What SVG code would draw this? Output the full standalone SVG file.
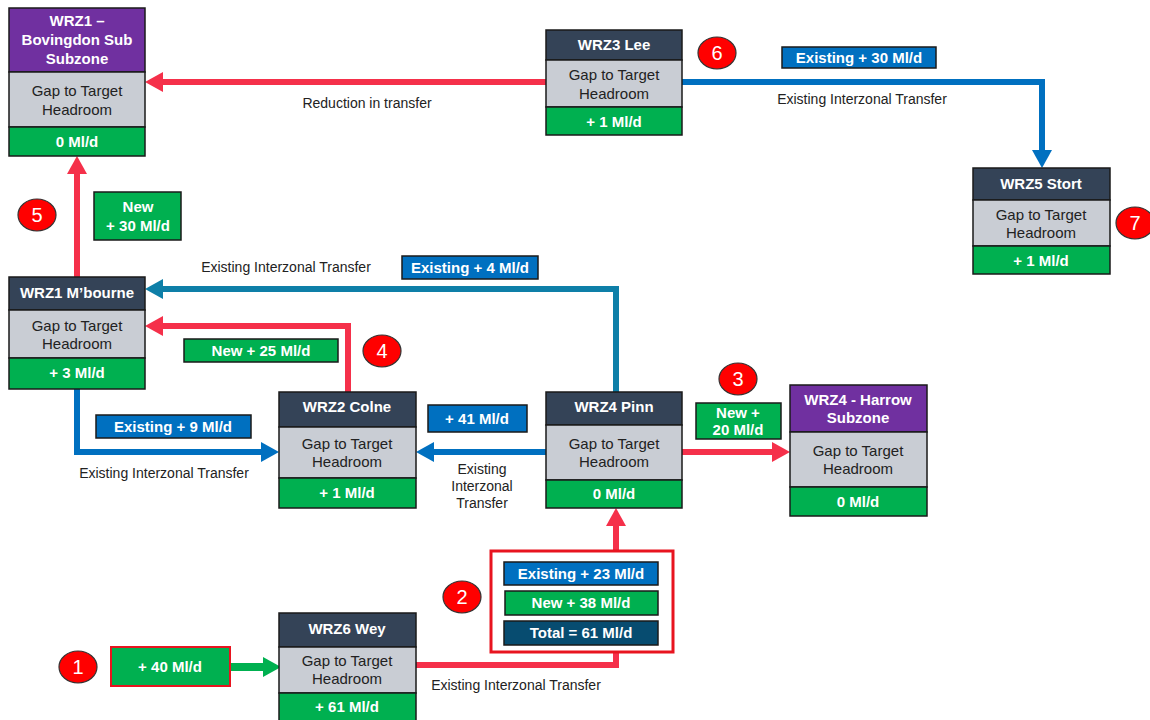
<svg xmlns="http://www.w3.org/2000/svg" width="1150" height="720" viewBox="0 0 1150 720">
<style>
.hd{fill:#344357;stroke:#1a1a1a;stroke-width:1.5}
.hp{fill:#7030a0;stroke:#1a1a1a;stroke-width:1.5}
.gy{fill:#c9cdd4;stroke:#1a1a1a;stroke-width:1.5}
.gn{fill:#00b050;stroke:#1a1a1a;stroke-width:1.5}
.bl{fill:#0070c0;stroke:#1a1a1a;stroke-width:1.5}
.nv{fill:#074c70;stroke:#1a1a1a;stroke-width:1.5}
.wt{font-family:"Liberation Sans",Arial,sans-serif;font-size:15px;font-weight:bold;fill:#ffffff;text-anchor:middle}
.gt{font-family:"Liberation Sans",Arial,sans-serif;font-size:15px;fill:#222222;text-anchor:middle}
.lb{font-family:"Liberation Sans",Arial,sans-serif;font-size:14px;fill:#222222;text-anchor:middle}
.bd{fill:#ff0000;stroke:#333333;stroke-width:1.2}
.bt{font-family:"Liberation Sans",Arial,sans-serif;font-size:20px;fill:#ffffff;text-anchor:middle}
.r{fill:none;stroke:#f5304a;stroke-width:6}
.b{fill:none;stroke:#0070c0;stroke-width:6}
.t{fill:none;stroke:#0e7fa8;stroke-width:6}
.g{fill:none;stroke:#00b050;stroke-width:8}
</style>
<defs>
<marker id="ar" markerUnits="userSpaceOnUse" markerWidth="20" markerHeight="24" refX="0" refY="12" orient="auto" overflow="visible"><path d="M0,2 L18,12 L0,22 z" fill="#f5304a"/></marker>
<marker id="ab" markerUnits="userSpaceOnUse" markerWidth="20" markerHeight="24" refX="0" refY="12" orient="auto" overflow="visible"><path d="M0,2 L18,12 L0,22 z" fill="#0070c0"/></marker>
<marker id="at" markerUnits="userSpaceOnUse" markerWidth="20" markerHeight="24" refX="0" refY="12" orient="auto" overflow="visible"><path d="M0,2 L18,12 L0,22 z" fill="#0e7fa8"/></marker>
<marker id="ag" markerUnits="userSpaceOnUse" markerWidth="20" markerHeight="24" refX="0" refY="12" orient="auto" overflow="visible"><path d="M0,2 L18,12 L0,22 z" fill="#00b050"/></marker>
</defs>
<rect width="1150" height="720" fill="#ffffff"/>

<g id="connectors">
<path class="r" d="M546,82 H163" marker-end="url(#ar)"/>
<path class="b" d="M682,82 H1042 V150" marker-end="url(#ab)"/>
<path class="r" d="M77,277 V174" marker-end="url(#ar)"/>
<path class="t" d="M616,392 V289 H163" marker-end="url(#at)"/>
<path class="r" d="M348,392 V326 H163" marker-end="url(#ar)"/>
<path class="b" d="M77,389 V452 H261" marker-end="url(#ab)"/>
<path class="b" d="M546,452 H434" marker-end="url(#ab)"/>
<path class="r" d="M682,452 H772" marker-end="url(#ar)"/>
<path class="r" d="M416,665 H616 V526" marker-end="url(#ar)"/>
<path class="g" d="M230,667 H263" marker-end="url(#ag)"/>
</g>

<g id="node-bovingdon">
<rect class="hp" x="9" y="8" width="136" height="64"/>
<rect class="gy" x="9" y="72" width="136" height="55"/>
<rect class="gn" x="9" y="127" width="136" height="29"/>
<text class="wt" x="77" y="26">WRZ1 –</text>
<text class="wt" x="77" y="45">Bovingdon Sub</text>
<text class="wt" x="77" y="64">Subzone</text>
<text class="gt" x="77" y="96">Gap to Target</text>
<text class="gt" x="77" y="115">Headroom</text>
<text class="wt" x="77" y="147">0 Ml/d</text>
</g>

<g id="node-lee">
<rect class="hd" x="546" y="30" width="136" height="30"/>
<rect class="gy" x="546" y="60" width="136" height="47"/>
<rect class="gn" x="546" y="107" width="136" height="28"/>
<text class="wt" x="614" y="50">WRZ3 Lee</text>
<text class="gt" x="614" y="80">Gap to Target</text>
<text class="gt" x="614" y="99">Headroom</text>
<text class="wt" x="614" y="127">+ 1 Ml/d</text>
</g>

<g id="node-stort">
<rect class="hd" x="973" y="168" width="137" height="32"/>
<rect class="gy" x="973" y="200" width="137" height="46"/>
<rect class="gn" x="973" y="246" width="137" height="28"/>
<text class="wt" x="1041" y="189">WRZ5 Stort</text>
<text class="gt" x="1041" y="220">Gap to Target</text>
<text class="gt" x="1041" y="238">Headroom</text>
<text class="wt" x="1041" y="266">+ 1 Ml/d</text>
</g>

<g id="node-mbourne">
<rect class="hd" x="9" y="277" width="136" height="33"/>
<rect class="gy" x="9" y="310" width="136" height="48"/>
<rect class="gn" x="9" y="358" width="136" height="31"/>
<text class="wt" x="77" y="298">WRZ1 M’bourne</text>
<text class="gt" x="77" y="331">Gap to Target</text>
<text class="gt" x="77" y="349">Headroom</text>
<text class="wt" x="77" y="378">+ 3 Ml/d</text>
</g>

<g id="node-colne">
<rect class="hd" x="279" y="392" width="137" height="35"/>
<rect class="gy" x="279" y="427" width="137" height="51"/>
<rect class="gn" x="279" y="478" width="137" height="30"/>
<text class="wt" x="347" y="412">WRZ2 Colne</text>
<text class="gt" x="347" y="449">Gap to Target</text>
<text class="gt" x="347" y="467">Headroom</text>
<text class="wt" x="347" y="498">+ 1 Ml/d</text>
</g>

<g id="node-pinn">
<rect class="hd" x="546" y="392" width="136" height="33"/>
<rect class="gy" x="546" y="425" width="136" height="55"/>
<rect class="gn" x="546" y="480" width="136" height="28"/>
<text class="wt" x="614" y="412">WRZ4 Pinn</text>
<text class="gt" x="614" y="449">Gap to Target</text>
<text class="gt" x="614" y="467">Headroom</text>
<text class="wt" x="614" y="499">0 Ml/d</text>
</g>

<g id="node-harrow">
<rect class="hp" x="790" y="385" width="137" height="47"/>
<rect class="gy" x="790" y="432" width="137" height="55"/>
<rect class="gn" x="790" y="487" width="137" height="29"/>
<text class="wt" x="858" y="405">WRZ4 - Harrow</text>
<text class="wt" x="858" y="423">Subzone</text>
<text class="gt" x="858" y="456">Gap to Target</text>
<text class="gt" x="858" y="474">Headroom</text>
<text class="wt" x="858" y="507">0 Ml/d</text>
</g>

<g id="node-wey">
<rect class="hd" x="279" y="613" width="137" height="34"/>
<rect class="gy" x="279" y="647" width="137" height="46"/>
<rect class="gn" x="279" y="693" width="137" height="30"/>
<text class="wt" x="347" y="634">WRZ6 Wey</text>
<text class="gt" x="347" y="666">Gap to Target</text>
<text class="gt" x="347" y="684">Headroom</text>
<text class="wt" x="347" y="712">+ 61 Ml/d</text>
</g>

<g id="labels">
<text class="lb" x="367" y="108">Reduction in transfer</text>
<rect class="bl" x="782" y="47" width="154" height="21"/>
<text class="wt" x="859" y="63">Existing  + 30 Ml/d</text>
<text class="lb" x="862" y="104">Existing Interzonal Transfer</text>

<rect class="gn" x="94" y="192" width="87" height="48"/>
<text class="wt" x="138" y="212">New</text>
<text class="wt" x="138" y="231">+ 30 Ml/d</text>

<text class="lb" x="286" y="272">Existing Interzonal Transfer</text>
<rect class="bl" x="402" y="256" width="136" height="23"/>
<text class="wt" x="470" y="273">Existing  + 4 Ml/d</text>

<rect class="gn" x="184" y="339" width="154" height="23"/>
<text class="wt" x="261" y="356">New + 25 Ml/d</text>

<rect class="bl" x="96" y="415" width="155" height="23"/>
<text class="wt" x="173" y="432">Existing  + 9 Ml/d</text>
<text class="lb" x="164" y="478">Existing Interzonal Transfer</text>

<rect class="bl" x="428" y="405" width="99" height="27"/>
<text class="wt" x="477" y="424">+ 41 Ml/d</text>
<text class="lb" x="482" y="474">Existing</text>
<text class="lb" x="482" y="491">Interzonal</text>
<text class="lb" x="482" y="508">Transfer</text>

<rect class="gn" x="696" y="403" width="85" height="36"/>
<text class="wt" x="738" y="418">New +</text>
<text class="wt" x="738" y="435">20 Ml/d</text>

<rect x="491" y="551" width="182" height="101" fill="#ffffff" stroke="#e8141f" stroke-width="3"/>
<rect class="bl" x="504" y="562" width="154" height="23"/>
<text class="wt" x="581" y="579">Existing  + 23 Ml/d</text>
<rect class="gn" x="505" y="591" width="153" height="24"/>
<text class="wt" x="581" y="608">New + 38 Ml/d</text>
<rect class="nv" x="504" y="621" width="154" height="24"/>
<text class="wt" x="581" y="638">Total = 61 Ml/d</text>
<text class="lb" x="516" y="690">Existing Interzonal Transfer</text>

<rect x="111" y="647" width="119" height="39" fill="#00b050" stroke="#e8141f" stroke-width="2"/>
<text class="wt" x="170" y="672">+ 40 Ml/d</text>
</g>

<g id="badges">
<ellipse class="bd" cx="78" cy="667" rx="19" ry="16"/><text class="bt" x="78" y="674">1</text>
<ellipse class="bd" cx="462" cy="597" rx="19" ry="16"/><text class="bt" x="462" y="604">2</text>
<ellipse class="bd" cx="738" cy="379" rx="19" ry="16"/><text class="bt" x="738" y="386">3</text>
<ellipse class="bd" cx="382" cy="351" rx="19" ry="16"/><text class="bt" x="382" y="358">4</text>
<ellipse class="bd" cx="37" cy="215" rx="19" ry="16"/><text class="bt" x="37" y="222">5</text>
<ellipse class="bd" cx="717" cy="53" rx="19" ry="16"/><text class="bt" x="717" y="60">6</text>
<ellipse class="bd" cx="1135" cy="223" rx="19" ry="16"/><text class="bt" x="1135" y="230">7</text>
</g>
</svg>
